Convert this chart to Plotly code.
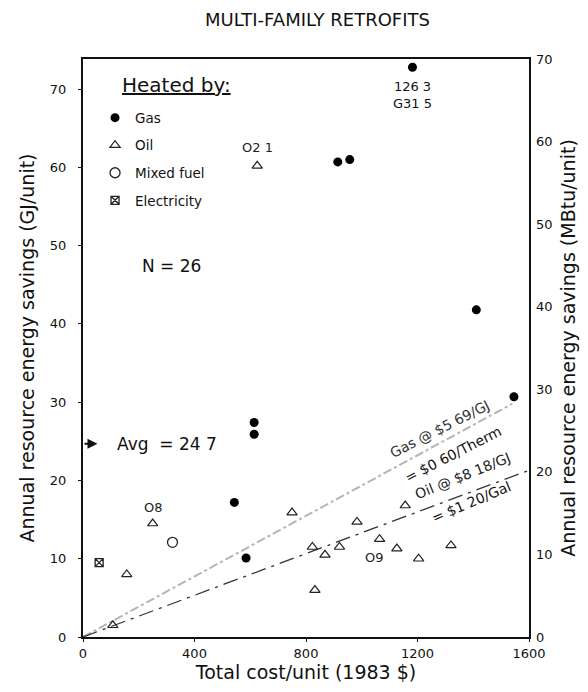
import plotly.graph_objects as go

# ---- data ----
gas_cost = [1182, 914, 957, 1411, 1546, 614, 614, 543, 585]
gas_sav = [72.8, 60.7, 61.0, 41.8, 30.7, 27.4, 25.9, 17.2, 10.1]

oil_cost = [625, 250, 157, 107, 750, 823, 868, 920, 832, 983, 1064, 1126, 1204, 1156, 1320]
oil_sav = [60.2, 14.5, 8.0, 1.5, 15.9, 11.5, 10.5, 11.5, 6.0, 14.7, 12.5, 11.3, 10.0, 16.8, 11.7]

mixed_cost = [321]
mixed_sav = [12.1]

elec_cost = [58]
elec_sav = [9.5]

gas_line_x = [0, 1540]
gas_line_y = [0, 29.8]
oil_line_x = [0, 1600]
oil_line_y = [0, 21.3]

avg_saving = 24.7
x_ticks = [0, 400, 800, 1200, 1600]
y_ticks = [0, 10, 20, 30, 40, 50, 60, 70]
y_max_gj = 73.85
y_max_mbtu = 70

FONT = "DejaVu Sans"

fig = go.Figure()

# break-even lines
fig.add_trace(go.Scatter(x=gas_line_x, y=gas_line_y, mode="lines",
                         line=dict(color="#b5b5b5", width=2, dash="dashdot"),
                         showlegend=False, hoverinfo="skip"))
fig.add_trace(go.Scatter(x=oil_line_x, y=oil_line_y, mode="lines",
                         line=dict(color="#333333", width=1.3, dash="longdashdot"),
                         showlegend=False, hoverinfo="skip"))

# data points
fig.add_trace(go.Scatter(x=gas_cost, y=gas_sav, mode="markers", name="Gas",
                         legendgroup="g1",
                         marker=dict(symbol="circle", size=9, color="black"),
                         cliponaxis=False))
fig.add_trace(go.Scatter(x=oil_cost, y=oil_sav, mode="markers", name="Oil",
                         legendgroup="g2",
                         marker=dict(symbol="triangle-up-open", size=9, color="#222",
                                     line=dict(width=1.2))))
fig.add_trace(go.Scatter(x=mixed_cost, y=mixed_sav, mode="markers", name="Mixed fuel",
                         legendgroup="g3",
                         marker=dict(symbol="circle-open", size=10, color="#222",
                                     line=dict(width=1.3))))
fig.add_trace(go.Scatter(x=elec_cost, y=elec_sav, mode="markers", name="Electricity",
                         legendgroup="g4",
                         marker=dict(symbol="square-x-open", size=8, color="#222",
                                     line=dict(width=1.3))))
# dummy for right axis
fig.add_trace(go.Scatter(x=[None], y=[None], yaxis="y2", showlegend=False))

ann = []
ann.append(dict(text="<u>Heated by:</u>", x=0.083, y=0.955, xref="paper", yref="paper",
                xanchor="left", yanchor="middle", showarrow=False,
                font=dict(family=FONT, size=20, color="#111")))
ann.append(dict(text="N = 26", x=318, y=47.4, xref="x", yref="y", showarrow=False,
                font=dict(family=FONT, size=17, color="#111")))
ann.append(dict(text="", x=52, y=avg_saving, ax=0, ay=avg_saving, axref="x", ayref="y",
                xref="x", yref="y", showarrow=True, arrowhead=2, arrowsize=1,
                arrowwidth=2, arrowcolor="#111"))
ann.append(dict(text="Avg  = 24 7", x=114, y=avg_saving, xref="x", yref="y",
                xanchor="left", yanchor="middle", showarrow=False,
                font=dict(family=FONT, size=17, color="#111")))
ann.append(dict(text="126 3<br>G31 5", x=gas_cost[0], y=69.3, xref="x", yref="y",
                showarrow=False, font=dict(family=FONT, size=13, color="#111")))
ann.append(dict(text="▲", x=gas_cost[0], y=76.0, xref="x", yref="y",
                showarrow=False, font=dict(family=FONT, size=11, color="#111")))
ann.append(dict(text="O2 1", x=oil_cost[0], y=62.5, xref="x", yref="y",
                showarrow=False, font=dict(family=FONT, size=13, color="#222")))
ann.append(dict(text="O8", x=254, y=16.6, xref="x", yref="y",
                showarrow=False, font=dict(family=FONT, size=13, color="#222")))
ann.append(dict(text="O9", x=1046, y=10.2, xref="x", yref="y",
                showarrow=False, font=dict(family=FONT, size=13, color="#222")))
ann.append(dict(text="Gas @ $5 69/GJ", x=1279, y=26.6, xref="x", yref="y",
                textangle=-27, showarrow=False,
                font=dict(family=FONT, size=14, color="#333")))
ann.append(dict(text="= $0 60/Therm", x=1329, y=23.4, xref="x", yref="y",
                textangle=-27, showarrow=False,
                font=dict(family=FONT, size=14, color="#111")))
ann.append(dict(text="Oil @ $8 18/GJ", x=1360, y=20.6, xref="x", yref="y",
                textangle=-22, showarrow=False,
                font=dict(family=FONT, size=14, color="#222")))
ann.append(dict(text="= $1 20/Gal", x=1393, y=17.3, xref="x", yref="y",
                textangle=-23, showarrow=False,
                font=dict(family=FONT, size=14, color="#111")))

fig.update_layout(
    width=588, height=692,
    margin=dict(l=83, r=57, t=59, b=55),
    paper_bgcolor="white", plot_bgcolor="white",
    font=dict(family=FONT, size=12, color="#111"),
    title=dict(text="MULTI-FAMILY RETROFITS", x=0.54, xanchor="center",
               y=0.972, yanchor="middle", font=dict(family=FONT, size=18, color="#111")),
    showlegend=True,
    legend=dict(x=0.027, y=0.925, xanchor="left", yanchor="top",
                bgcolor="rgba(0,0,0,0)", tracegroupgap=7,
                font=dict(family=FONT, size=13.5, color="#111")),
    annotations=ann,
    xaxis=dict(range=[0, 1600], tickvals=x_ticks, showgrid=False, zeroline=False,
               showline=True, linewidth=2, linecolor="#111", mirror=True,
               ticks="outside", ticklen=3, tickcolor="#111",
               tickfont=dict(size=13),
               title=dict(text="Total cost/unit (1983 $)", standoff=4,
                          font=dict(family=FONT, size=19, color="#111"))),
    yaxis=dict(range=[0, y_max_gj], tickvals=y_ticks, showgrid=False, zeroline=False,
               showline=True, linewidth=2, linecolor="#111", mirror=True,
               ticks="outside", ticklen=3, tickcolor="#111", ticklabelstandoff=9,
               tickfont=dict(size=13),
               title=dict(text="Annual resource energy savings (GJ/unit)", standoff=10,
                          font=dict(family=FONT, size=19, color="#111"))),
    yaxis2=dict(range=[0, y_max_mbtu], tickvals=y_ticks, overlaying="y", side="right",
                showgrid=False, zeroline=False, showline=False,
                ticks="", ticklabelstandoff=6, tickfont=dict(size=13),
                title=dict(text="Annual resource energy savings (MBtu/unit)", standoff=10,
                           font=dict(family=FONT, size=19, color="#111"))),
)

fig.write_html("out.html")
